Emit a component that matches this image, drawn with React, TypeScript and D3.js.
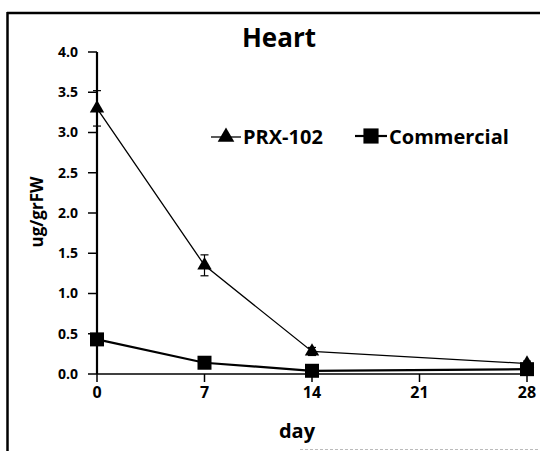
import { scaleLinear, line as d3_line, symbol, symbolTriangle, symbolSquare } from "d3";

let days = [0, 7, 14, 28];
let prx = [3.3, 1.35, 0.28, 0.13];
let prxErr = [0.22, 0.13, 0.05, 0.03];
let commercial = [0.43, 0.14, 0.04, 0.06];
let commercialErr = [0.04, 0.03, 0.02, 0.02];
let xTicks = [0, 7, 14, 21, 28];
let yTicks = [0, 0.5, 1, 1.5, 2, 2.5, 3, 3.5, 4];

const W = 540;
const H = 451;
const font = "'Open Sans', sans-serif";

export default function App() {
  let x = scaleLinear().domain([0, 28]).range([97, 527]);
  let y = scaleLinear().domain([0, 4]).range([374, 52]);

  let line = d3_line<number>()
    .x((_, i) => x(days[i]))
    .y((v) => y(v));

  let tri = symbol(symbolTriangle, 90)();
  let sq = symbol(symbolSquare, 196)();
  let triLegend = symbol(symbolTriangle, 120)();
  let sqLegend = symbol(symbolSquare, 230)();

  return (
    <div style={{ position: "absolute", left: 0, top: 0 }}>
      <svg width={W} height={H} style={{ display: "block", background: "#fff" }} fontFamily={font}>
        {/* frame */}
        <line x1={7} x2={W} y1={13} y2={13} stroke="#000" strokeWidth={2.5} />
        <line x1={7.5} x2={7.5} y1={12} y2={H} stroke="#000" strokeWidth={2.5} />
        <line x1={300} x2={W} y1={449.5} y2={449.5} stroke="#bbb" strokeWidth={1} strokeDasharray="3,2" />

        <text x={279} y={47} textAnchor="middle" fontSize={26} fontWeight={700}>
          Heart
        </text>

        {/* y axis */}
        <line x1={x(0)} x2={x(0)} y1={y(4)} y2={y(0)} stroke="#000" strokeWidth={2.2} />
        {yTicks.map((t) => (
          <g key={t} transform={`translate(0,${y(t)})`}>
            <line x1={x(0) - 9} x2={x(0)} stroke="#000" strokeWidth={1.5} />
            <text x={78} dy="0.35em" textAnchor="end" fontSize={14} fontWeight={700}>
              {t.toFixed(1)}
            </text>
          </g>
        ))}
        <text
          transform={`translate(43,212) rotate(-90)`}
          textAnchor="middle"
          fontSize={17}
          fontWeight={700}
        >
          ug/grFW
        </text>

        {/* x axis */}
        <line x1={x(0)} x2={x(28) + 3} y1={y(0)} y2={y(0)} stroke="#000" strokeWidth={1.5} />
        {xTicks.map((t) => (
          <g key={t} transform={`translate(${x(t)},0)`}>
            <line y1={y(0)} y2={y(0) + 8} stroke="#000" strokeWidth={1.5} />
            <text y={398} textAnchor="middle" fontSize={16} fontWeight={700}>
              {t}
            </text>
          </g>
        ))}
        <text x={297} y={438} textAnchor="middle" fontSize={20} fontWeight={700}>
          day
        </text>

        {/* PRX-102 */}
        <path d={line(prx) ?? ""} fill="none" stroke="#000" strokeWidth={1.3} />
        {prx.map((v, i) => (
          <g key={i}>
            <line x1={x(days[i])} x2={x(days[i])} y1={y(v + prxErr[i])} y2={y(v - prxErr[i])} stroke="#000" strokeWidth={1.2} />
            <line x1={x(days[i]) - 4} x2={x(days[i]) + 4} y1={y(v + prxErr[i])} y2={y(v + prxErr[i])} stroke="#000" strokeWidth={1.2} />
            <line x1={x(days[i]) - 4} x2={x(days[i]) + 4} y1={y(v - prxErr[i])} y2={y(v - prxErr[i])} stroke="#000" strokeWidth={1.2} />
            <path d={tri ?? ""} transform={`translate(${x(days[i])},${y(v)})`} fill="#000" />
          </g>
        ))}

        {/* Commercial */}
        <path d={line(commercial) ?? ""} fill="none" stroke="#000" strokeWidth={2.2} />
        {commercial.map((v, i) => (
          <g key={i}>
            <line x1={x(days[i])} x2={x(days[i])} y1={y(v + commercialErr[i])} y2={y(v - commercialErr[i])} stroke="#000" strokeWidth={1.2} />
            <path d={sq ?? ""} transform={`translate(${x(days[i])},${y(v)})`} fill="#000" />
          </g>
        ))}

        {/* legend */}
        <line x1={211} x2={241} y1={137} y2={137} stroke="#000" strokeWidth={1.3} />
        <path d={triLegend ?? ""} transform="translate(226,137)" fill="#000" />
        <text x={243} y={137} dy="0.36em" fontSize={20} fontWeight={700}>
          PRX-102
        </text>
        <line x1={355} x2={387} y1={136} y2={136} stroke="#000" strokeWidth={2.2} />
        <path d={sqLegend ?? ""} transform="translate(371,136)" fill="#000" />
        <text x={389} y={137} dy="0.36em" fontSize={20} fontWeight={700}>
          Commercial
        </text>
      </svg>
    </div>
  );
}
